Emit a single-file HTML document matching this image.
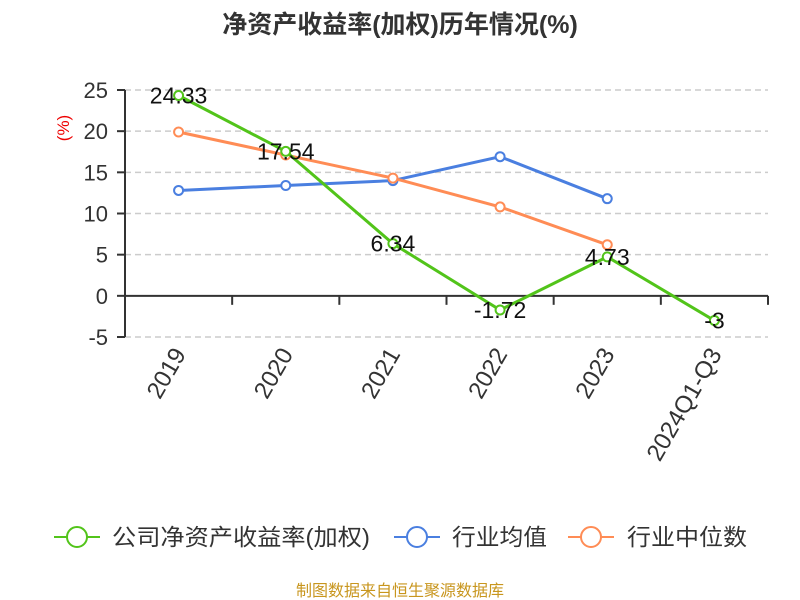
<!DOCTYPE html>
<html><head><meta charset="utf-8"><style>
body{margin:0;background:#fff;}
svg{display:block;font-family:"Liberation Sans","Noto Sans CJK SC",sans-serif;}
</style></head><body>
<svg width="800" height="600" viewBox="0 0 800 600">
<text x="400" y="33" text-anchor="middle" font-size="25" font-weight="bold" fill="#333">净资产收益率(加权)历年情况(%)</text>
<text transform="translate(69,128) rotate(-90)" text-anchor="middle" font-size="17" fill="#e00">(%)</text>
<g id="grid"></g><g id="axes"></g><g id="series"></g><g id="labels"></g>
<g>
<g><line x1="54" y1="537" x2="100" y2="537" stroke="#52c41a" stroke-width="2"/><circle cx="77" cy="537" r="10" fill="#fff" stroke="#52c41a" stroke-width="2"/><text x="112" y="545" font-size="23" fill="#333" textLength="258" lengthAdjust="spacingAndGlyphs">公司净资产收益率(加权)</text></g>
<g><line x1="394" y1="537" x2="440" y2="537" stroke="#4a7fe0" stroke-width="2"/><circle cx="417" cy="537" r="10" fill="#fff" stroke="#4a7fe0" stroke-width="2"/><text x="452" y="545" font-size="23" fill="#333" textLength="95" lengthAdjust="spacingAndGlyphs">行业均值</text></g>
<g><line x1="568" y1="537" x2="614" y2="537" stroke="#ff8c55" stroke-width="2"/><circle cx="591" cy="537" r="10" fill="#fff" stroke="#ff8c55" stroke-width="2"/><text x="627" y="545" font-size="23" fill="#333" textLength="120" lengthAdjust="spacingAndGlyphs">行业中位数</text></g>
</g>
<text x="400" y="596" text-anchor="middle" font-size="16" fill="#c8961e">制图数据来自恒生聚源数据库</text>
</svg>
<script>
const categories=["2019","2020","2021","2022","2023","2024Q1-Q3"];
const companyValues=[24.33,17.54,6.34,-1.72,4.73,-3];
const meanValues=[12.8,13.4,14.0,16.9,11.8];
const medianValues=[19.9,17.1,14.3,10.8,6.2];
const yTicks=[25,20,15,10,5,0,-5];
const NS="http://www.w3.org/2000/svg";
const X0=125,X1=768,Y25=90,Ym5=337;
const band=(X1-X0)/categories.length;
const xs=i=>X0+band*(i+0.5);
const ys=v=>Y25+(25-v)*(Ym5-Y25)/30;
function mk(t,a,p){const e=document.createElementNS(NS,t);for(const k in a)e.setAttribute(k,a[k]);p.appendChild(e);return e;}
const grid=document.getElementById('grid'),axes=document.getElementById('axes'),series=document.getElementById('series'),labels=document.getElementById('labels');
yTicks.forEach(v=>{
 if(v!==0){const l=mk('line',{x1:X0,x2:X1,y1:ys(v),y2:ys(v),stroke:'#ccc','stroke-dasharray':'6,4','stroke-width':1.5},grid);
 
 }
 const t=mk('text',{x:X0-17,y:ys(v)+8,'text-anchor':'end','font-size':22,fill:'#333'},axes);t.textContent=v;
 
 
 mk('line',{x1:X0-8,x2:X0,y1:ys(v),y2:ys(v),stroke:'#333','stroke-width':2},axes);
});
const ya=mk('line',{x1:X0,x2:X0,y1:Y25,y2:Ym5,stroke:'#333','stroke-width':2},axes);


const xa=mk('line',{x1:X0,x2:X1,y1:ys(0),y2:ys(0),stroke:'#333','stroke-width':2},axes);


for(let i=0;i<=categories.length;i++){mk('line',{x1:X0+band*i,x2:X0+band*i,y1:ys(0),y2:ys(0)+9,stroke:'#333','stroke-width':2},axes);}
categories.forEach((c,i)=>{const t=mk('text',{transform:`translate(${xs(i)+8},${354}) rotate(-60)`,'text-anchor':'end','font-size':24,fill:'#333'},axes);t.textContent=c;
 
 });
function draw(vals,color,name){
 const pts=vals.map((v,i)=>xs(i)+','+ys(v)).join(' ');
 const pl=mk('polyline',{points:pts,fill:'none',stroke:color,'stroke-width':3},series);
 
 
 vals.forEach((v,i)=>{const c=mk('circle',{cx:xs(i),cy:ys(v),r:4.5,fill:'#fff',stroke:color,'stroke-width':2},series);
 
 });
}
draw(meanValues,'#4a7fe0','industry-mean');
draw(medianValues,'#ff8c55','industry-median');
draw(companyValues,'#52c41a','company');
companyValues.forEach((v,i)=>{const t=mk('text',{x:xs(i),y:ys(v)+8,'text-anchor':'middle','font-size':23,fill:'#111'},labels);t.textContent=v;
 
 });
</script>
</body></html>
